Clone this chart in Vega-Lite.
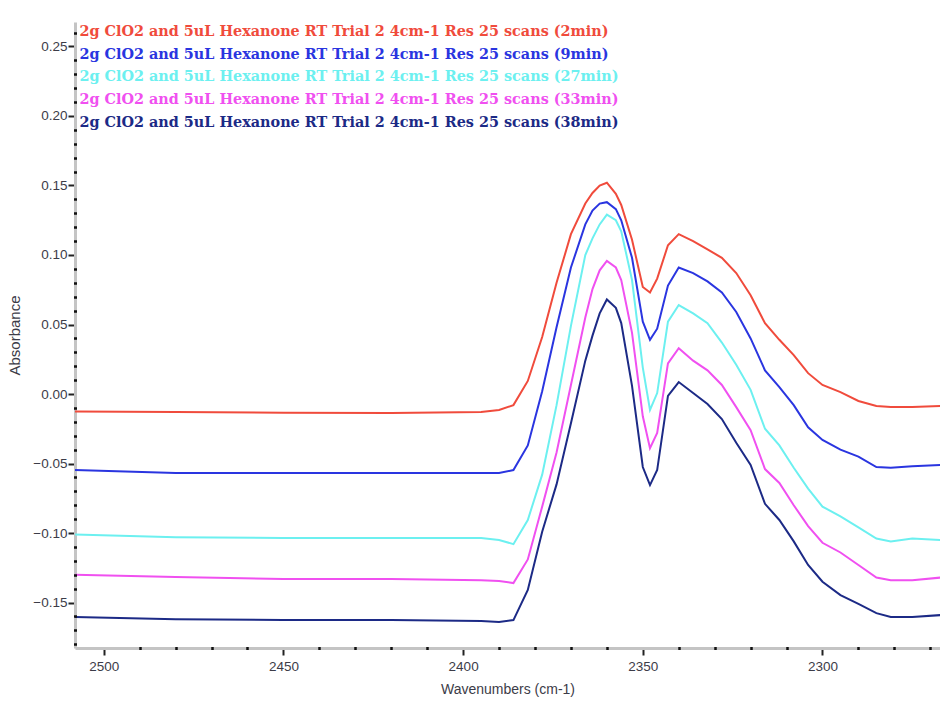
{
  "$schema": "https://vega.github.io/schema/vega-lite/v6.json",
  "width": 865,
  "height": 626,
  "autosize": {"type": "none"},
  "padding": {"left": 75, "top": 22, "right": 0, "bottom": 58},
  "background": "white",
  "config": {"view": {"stroke": null}, "font": "Liberation Sans"},
  "data": {"values": [
    {"wn": 2508, "2min": -0.0126, "9min": -0.0547, "27min": -0.101, "33min": -0.130, "38min": -0.1604},
    {"wn": 2480, "2min": -0.013, "9min": -0.0568, "27min": -0.103, "33min": -0.1317, "38min": -0.162},
    {"wn": 2450, "2min": -0.0135, "9min": -0.0568, "27min": -0.1036, "33min": -0.133, "38min": -0.1626},
    {"wn": 2420, "2min": -0.0137, "9min": -0.0568, "27min": -0.1036, "33min": -0.133, "38min": -0.1626},
    {"wn": 2395, "2min": -0.013, "9min": -0.0568, "27min": -0.1036, "33min": -0.134, "38min": -0.1633},
    {"wn": 2390, "2min": -0.0115, "9min": -0.0568, "27min": -0.105, "33min": -0.1345, "38min": -0.164},
    {"wn": 2386, "2min": -0.008, "9min": -0.0547, "27min": -0.108, "33min": -0.136, "38min": -0.1626},
    {"wn": 2382, "2min": 0.0094, "9min": -0.037, "27min": -0.0906, "33min": -0.119, "38min": -0.141},
    {"wn": 2378, "2min": 0.041, "9min": 0.002, "27min": -0.058, "33min": -0.081, "38min": -0.099},
    {"wn": 2374, "2min": 0.080, "9min": 0.048, "27min": -0.008, "33min": -0.042, "38min": -0.065},
    {"wn": 2370, "2min": 0.115, "9min": 0.091, "27min": 0.049, "33min": 0.0065, "38min": -0.021},
    {"wn": 2366, "2min": 0.137, "9min": 0.122, "27min": 0.100, "33min": 0.055, "38min": 0.024},
    {"wn": 2364, "2min": 0.1446, "9min": 0.132, "27min": 0.112, "33min": 0.0755, "38min": 0.042},
    {"wn": 2362, "2min": 0.150, "9min": 0.137, "27min": 0.122, "33min": 0.089, "38min": 0.058},
    {"wn": 2360, "2min": 0.152, "9min": 0.138, "27min": 0.129, "33min": 0.0957, "38min": 0.068},
    {"wn": 2357.5, "2min": 0.144, "9min": 0.133, "27min": 0.125, "33min": 0.091, "38min": 0.062},
    {"wn": 2356, "2min": 0.136, "9min": 0.125, "27min": 0.117, "33min": 0.082, "38min": 0.051},
    {"wn": 2353, "2min": 0.111, "9min": 0.098, "27min": 0.082, "33min": 0.044, "38min": 0.0058},
    {"wn": 2350, "2min": 0.077, "9min": 0.052, "27min": 0.019, "33min": -0.016, "38min": -0.0525},
    {"wn": 2348, "2min": 0.073, "9min": 0.039, "27min": -0.0115, "33min": -0.039, "38min": -0.0655},
    {"wn": 2346, "2min": 0.083, "9min": 0.047, "27min": 0.0007, "33min": -0.028, "38min": -0.0547},
    {"wn": 2343, "2min": 0.107, "9min": 0.078, "27min": 0.052, "33min": 0.022, "38min": -0.0014},
    {"wn": 2340, "2min": 0.115, "9min": 0.091, "27min": 0.064, "33min": 0.033, "38min": 0.0086},
    {"wn": 2336, "2min": 0.110, "9min": 0.087, "27min": 0.058, "33min": 0.024, "38min": 0.0007},
    {"wn": 2332, "2min": 0.104, "9min": 0.081, "27min": 0.051, "33min": 0.017, "38min": -0.0072},
    {"wn": 2328, "2min": 0.098, "9min": 0.073, "27min": 0.037, "33min": 0.0065, "38min": -0.018},
    {"wn": 2324, "2min": 0.087, "9min": 0.059, "27min": 0.021, "33min": -0.0094, "38min": -0.035},
    {"wn": 2320, "2min": 0.071, "9min": 0.040, "27min": 0.003, "33min": -0.026, "38min": -0.051},
    {"wn": 2316, "2min": 0.051, "9min": 0.017, "27min": -0.025, "33min": -0.054, "38min": -0.079},
    {"wn": 2312, "2min": 0.039, "9min": 0.005, "27min": -0.037, "33min": -0.064, "38min": -0.0906},
    {"wn": 2308, "2min": 0.028, "9min": -0.008, "27min": -0.053, "33min": -0.080, "38min": -0.106},
    {"wn": 2304, "2min": 0.015, "9min": -0.024, "27min": -0.068, "33min": -0.095, "38min": -0.123},
    {"wn": 2300, "2min": 0.0065, "9min": -0.033, "27min": -0.081, "33min": -0.107, "38min": -0.135},
    {"wn": 2295, "2min": 0.0014, "9min": -0.040, "27min": -0.088, "33min": -0.114, "38min": -0.1446},
    {"wn": 2290, "2min": -0.005, "9min": -0.045, "27min": -0.096, "33min": -0.123, "38min": -0.151},
    {"wn": 2285, "2min": -0.0086, "9min": -0.0525, "27min": -0.104, "33min": -0.132, "38min": -0.1576},
    {"wn": 2281, "2min": -0.0094, "9min": -0.053, "27min": -0.106, "33min": -0.134, "38min": -0.1604},
    {"wn": 2275, "2min": -0.0094, "9min": -0.052, "27min": -0.104, "33min": -0.134, "38min": -0.1604},
    {"wn": 2267, "2min": -0.0086, "9min": -0.051, "27min": -0.105, "33min": -0.132, "38min": -0.159}
  ]},
  "transform": [{"fold": ["2min", "9min", "27min", "33min", "38min"], "as": ["scan", "absorbance"]}],
  "layer": [
    {
      "mark": {"type": "line", "strokeOpacity": 0},
      "encoding": {
        "x": {"field": "wn", "type": "quantitative",
          "scale": {"domain": [2267.3, 2508], "reverse": true, "nice": false, "zero": false},
          "axis": {"orient": "bottom", "values": [2270, 2280, 2290, 2310, 2320, 2330, 2340, 2360, 2370, 2380, 2390, 2410, 2420, 2430, 2440, 2460, 2470, 2480, 2490],
            "labels": false, "domain": false, "grid": false, "title": null, "tickSize": 3, "tickWidth": 2.5, "tickColor": "#111", "offset": -1.5, "zindex": 1}},
        "y": {"field": "absorbance", "type": "quantitative",
          "scale": {"domain": [-0.1827, 0.2676], "nice": false, "zero": false},
          "axis": {"orient": "left", "values": [-0.18, -0.17, -0.16, -0.14, -0.13, -0.12, -0.11, -0.09, -0.08, -0.07, -0.06, -0.04, -0.03, -0.02, -0.01, 0.01, 0.02, 0.03, 0.04, 0.06, 0.07, 0.08, 0.09, 0.11, 0.12, 0.13, 0.14, 0.16, 0.17, 0.18, 0.19, 0.21, 0.22, 0.23, 0.24, 0.26],
            "labels": false, "domain": false, "grid": false, "title": null, "tickSize": 3, "tickWidth": 2.5, "tickColor": "#111", "offset": -1.5, "zindex": 1}},
        "detail": {"field": "scan"}
      }
    },
    {
      "mark": {"type": "line", "strokeWidth": 2, "interpolate": "linear"},
      "encoding": {
        "x": {"field": "wn", "type": "quantitative",
          "axis": {"orient": "bottom", "values": [2300, 2350, 2400, 2450, 2500], "format": "d", "grid": false,
            "domainColor": "#c4c4c4", "domainWidth": 3, "tickColor": "#222", "tickSize": 7, "tickWidth": 2,
            "labelFont": "Liberation Sans", "labelFontSize": 13.5, "labelColor": "#3c3c48", "labelPadding": 4,
            "title": "Wavenumbers (cm-1)", "titleFont": "Liberation Sans", "titleFontSize": 14, "titleFontWeight": "normal", "titleColor": "#3c3c48", "titlePadding": 10}},
        "y": {"field": "absorbance", "type": "quantitative",
          "axis": {"orient": "left", "values": [-0.15, -0.1, -0.05, 0, 0.05, 0.1, 0.15, 0.2, 0.25], "format": ".2f", "grid": false,
            "domainColor": "#c4c4c4", "domainWidth": 3, "tickColor": "#222", "tickSize": 7, "tickWidth": 2,
            "labelFont": "Liberation Sans", "labelFontSize": 13.5, "labelColor": "#3c3c48", "labelPadding": 1,
            "title": "Absorbance", "titleFont": "Liberation Sans", "titleFontSize": 15, "titleFontWeight": "normal", "titleColor": "#3c3c48", "titlePadding": 10}},
        "color": {"field": "scan", "type": "nominal",
          "scale": {"domain": ["2min", "9min", "27min", "33min", "38min"], "range": ["#f04b3c", "#2a35e0", "#6cf0f0", "#f050f0", "#1c2a86"]},
          "legend": {"orient": "none", "legendX": -10, "legendY": 3, "title": null, "padding": 0,
            "symbolSize": 0, "symbolOpacity": 0, "symbolStrokeWidth": 0, "labelOffset": 0, "rowPadding": 7.6,
            "labelFont": "DejaVu Serif", "labelFontWeight": "bold", "labelFontSize": 14.4, "labelLimit": 900,
            "labelExpr": "'2g ClO2 and 5uL Hexanone RT Trial 2 4cm-1 Res 25 scans (' + datum.label + ')'",
            "encode": {"labels": {"update": {"fill": {"scale": "color", "field": "value"}}}}}}
      }
    }
  ],
  "resolve": {"axis": {"x": "independent", "y": "independent"}}
}
